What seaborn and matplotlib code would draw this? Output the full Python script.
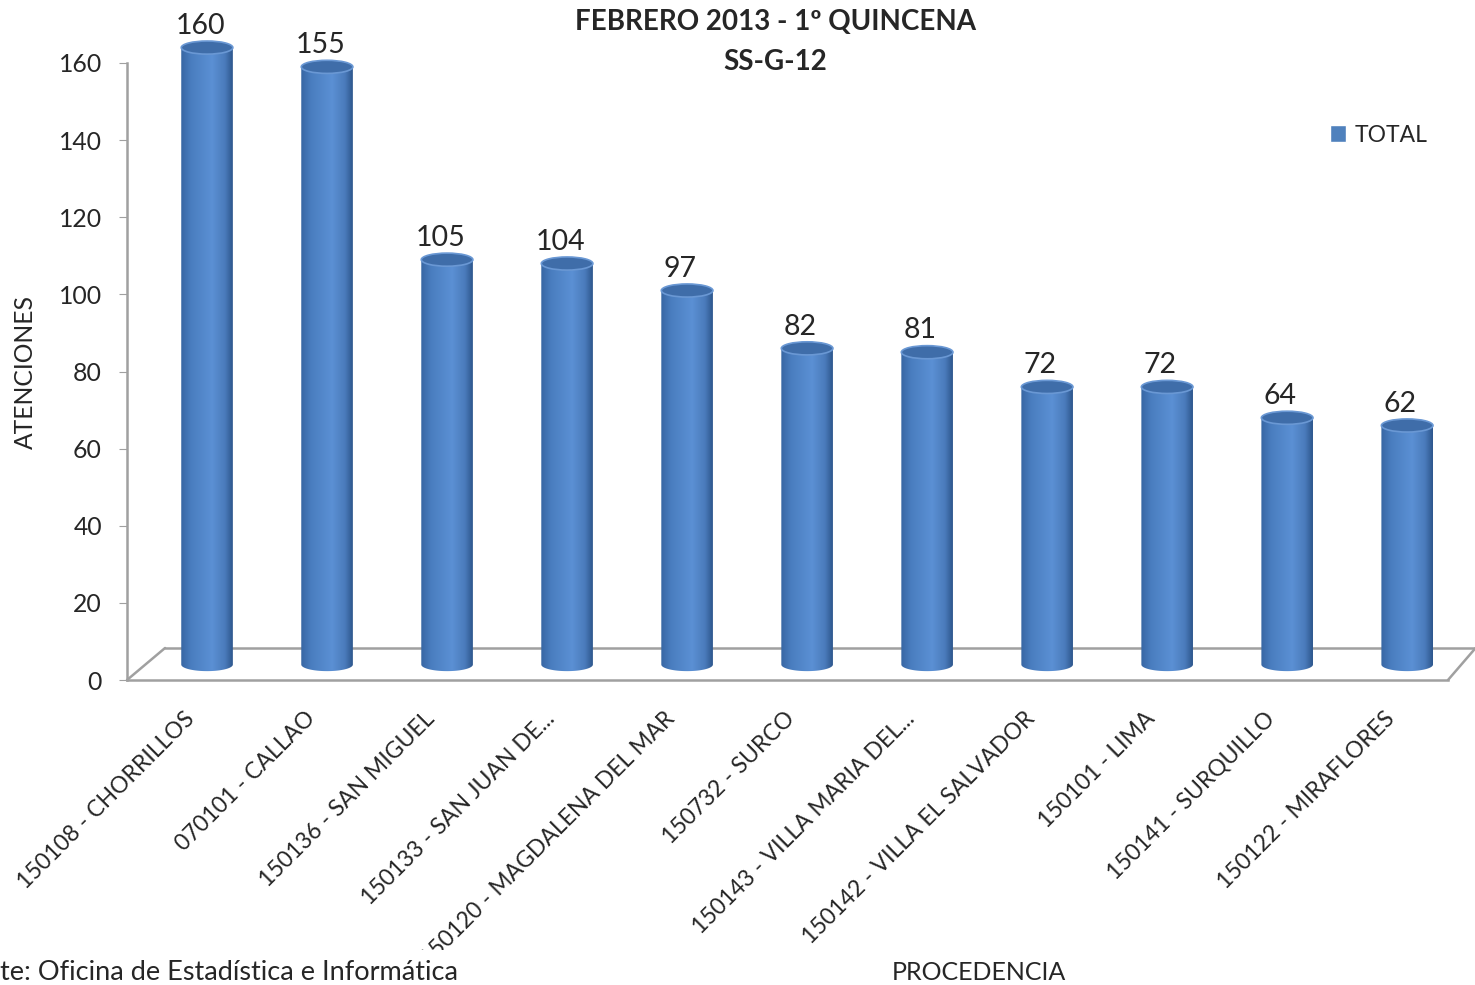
import numpy as np
import pandas as pd
import matplotlib
matplotlib.use("Agg")
import matplotlib.pyplot as plt
import seaborn as sb
from matplotlib.colors import LinearSegmentedColormap
from matplotlib.patches import Ellipse, Polygon, Patch
from matplotlib.transforms import Bbox, TransformedBbox, ScaledTranslation

# datos del grafico
procedencia = ["150108 - CHORRILLOS", "070101 - CALLAO", "150136 - SAN MIGUEL",
               "150133 - SAN JUAN DE...", "150120 - MAGDALENA DEL MAR", "150732 - SURCO",
               "150143 - VILLA MARIA DEL...", "150142 - VILLA EL SALVADOR", "150101 - LIMA",
               "150141 - SURQUILLO", "150122 - MIRAFLORES"]
atenciones = [160, 155, 105, 104, 97, 82, 81, 72, 72, 64, 62]
y_ticks = [0, 20, 40, 60, 80, 100, 120, 140, 160]

df = pd.DataFrame({"procedencia": procedencia, "total": atenciones})

sb.set_style("white")
plt.rcParams["font.family"] = ["Lato", "DejaVu Sans"]

W, H = 1475, 985
px = 617 / 160  # pixeles por unidad
ymax = 176
fig = plt.figure(figsize=(W / 100, H / 100), dpi=100)
ax = fig.add_axes([127 / W, 1 - 680 / H, (1448 - 127) / W, ymax * px / H])

sb.barplot(data=df, x="procedencia", y="total", color="#4f81bd", width=0.43, ax=ax)

ax.set_xlim(-0.667, 10.34)
ax.set_ylim(0, ymax)
ax.set_yticks(y_ticks)
ax.tick_params(axis="y", labelsize=17.8, length=6, color="#a0a0a0", pad=12, left=True)
ax.tick_params(axis="x", length=0)
ax.set_xticks(range(len(procedencia)))
ax.set_xticklabels(procedencia, rotation=45, ha="right", va="top",
                   rotation_mode="anchor", fontsize=16.5)
# las etiquetas se recortan al borde del area del grafico (como en Excel)
clip = TransformedBbox(Bbox([[0, 35 / H], [1, 1]]), fig.transFigure)
for lbl in ax.get_xticklabels():
    lbl.set_transform(lbl.get_transform() +
                      ScaledTranslation(-16.5 / 72, -16.5 / 72, fig.dpi_scale_trans))
    lbl.set_clip_box(clip)
    lbl.set_clip_on(True)
ax.set_xlabel("")
ax.set_ylabel("")

for s in ["top", "right"]:
    ax.spines[s].set_visible(False)
ax.spines["left"].set_bounds(0, 160)
for s in ["left", "bottom"]:
    ax.spines[s].set_color("#a0a0a0")
    ax.spines[s].set_linewidth(1.8)

# piso 3D
floor = 8.3
ax.plot([-0.35, 10.57], [floor, floor], color="#a0a0a0", lw=1.8, clip_on=False, zorder=1)
ax.plot([-0.667, -0.35], [0, floor], color="#a0a0a0", lw=1.8, clip_on=False, zorder=1)
ax.plot([10.34, 10.57], [0, floor], color="#a0a0a0", lw=1.8, clip_on=False, zorder=1)

# cilindros
cmap = LinearSegmentedColormap.from_list(
    "cil", [(0, "#3766a3"), (0.2, "#4a7ec0"), (0.6, "#5b90d4"), (0.85, "#4a7bbb"), (1, "#2d568c")])
grad = np.linspace(0, 1, 256).reshape(1, -1)
base = 4
eh = 3.4
for p, v in zip(ax.patches, atenciones):
    x0 = p.get_x()
    w = p.get_width()
    cx = x0 + w / 2
    top = v + base
    p.set_alpha(0)
    t = np.linspace(np.pi, 2 * np.pi, 40)
    arc = np.column_stack([cx + w / 2 * np.cos(t), base + eh / 2 * np.sin(t)])
    pts = np.vstack([[[x0, top]], arc, [[x0 + w, top]]])
    poly = Polygon(pts, closed=True, transform=ax.transData, facecolor="none", edgecolor="none")
    ax.add_patch(poly)
    im = ax.imshow(grad, cmap=cmap, extent=(x0, x0 + w, base - eh, top), aspect="auto",
                   zorder=3, interpolation="bicubic")
    im.set_clip_path(poly)
    ax.add_patch(Ellipse((cx, top), w, eh, facecolor="#3f6da9", edgecolor="#6a98d4",
                         lw=1.2, zorder=4))
    ax.annotate(str(v), (cx, top + eh / 2), xytext=(-5, 11), textcoords="offset points",
                ha="center", va="center", fontsize=20.5, zorder=5)
ax.set_xlim(-0.667, 10.34)
ax.set_ylim(0, ymax)

fig.text(775 / W, 1 - 22 / H, "FEBRERO 2013 - 1º QUINCENA", ha="center", va="center",
         fontsize=20, fontweight="bold")
fig.text(775 / W, 1 - 62 / H, "SS-G-12", ha="center", va="center",
         fontsize=20, fontweight="bold")
fig.text(25 / W, 1 - 372 / H, "ATENCIONES", rotation=90, ha="center", va="center", fontsize=17.7)
fig.text(979 / W, 1 - 973 / H, "PROCEDENCIA", ha="center", va="center", fontsize=18)
fig.text(0, 0, "te: Oficina de Estadística e Informática", ha="left", va="bottom",
         fontsize=19.5)

fig.legend(handles=[Patch(facecolor="#4f81bd")], labels=["TOTAL"], frameon=False,
           loc="center left", bbox_to_anchor=(1309 / W, 1 - 135 / H), fontsize=16.5,
           handlelength=0.7, handleheight=0.7, handletextpad=0.4)

fig.savefig("out.png", dpi=100)
